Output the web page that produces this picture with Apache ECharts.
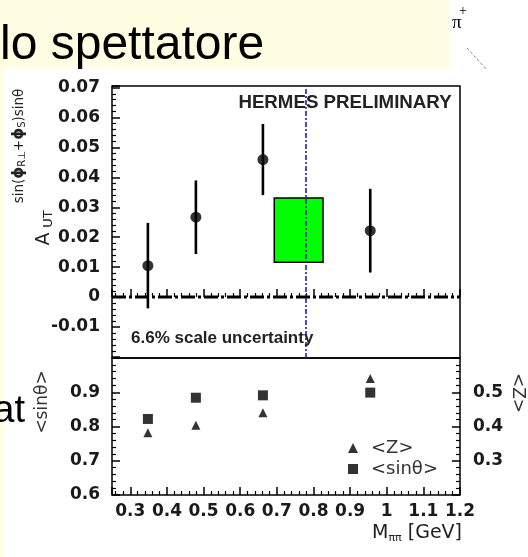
<!DOCTYPE html>
<html>
<head>
<meta charset="utf-8">
<script src="https://cdn.jsdelivr.net/npm/echarts@6/dist/echarts.min.js"></script>
<style>
html,body{margin:0;padding:0;background:#fff;}
#chart{width:528px;height:557px;}
</style>
</head>
<body>
<div id="chart"></div>
<script>
// ---- data ----
const massBins = [0.348, 0.479, 0.662, 0.955];          // M_pipi bin centres [GeV]
const asymValues = [0.0105, 0.0267, 0.0460, 0.0222];    // A_UT amplitude
const asymErrors = [0.0143, 0.0123, 0.0119, 0.0140];    // statistical errors
const sinThetaMeans = [0.822, 0.884, 0.891, 0.899];     // <sin theta> (left axis)
const zMeans = [0.382, 0.404, 0.440, 0.540];            // <z> (right axis)
const rhoMass = 0.777;                                  // dashed vertical line
const rhoBoxMass = [0.693, 0.826];                      // green box x-extent
const rhoBoxAsym = [0.0116, 0.0331];                    // green box y-extent
const xRange = [0.25, 1.2];
const asymRange = [-0.0204, 0.0706];
const sinRange = [0.6, 1.0];
const zRange = [0.2, 0.6];

const FONT = 'DejaVu Sans';
const tickStyle = {show:true, inside:true, length:8, lineStyle:{color:'#000', width:1.5}};
const minorStyle = {show:true, splitNumber:5, length:4, lineStyle:{color:'#000', width:1.2}};
const lblStyle = {fontFamily:FONT, fontSize:17, fontWeight:'bold', color:'#1a1a1a'};

function fmtStep(step, hideFn){
  return function(v){
    const r = Math.round(v/step);
    if (Math.abs(v/step - r) > 1e-6) return '';
    const val = +(r*step).toFixed(4);
    if (hideFn && hideFn(val)) return '';
    return String(val);
  };
}

const chart = echarts.init(document.getElementById('chart'), null, {renderer:'canvas'});
const option = {
  animation:false,
  backgroundColor:'#ffffff',
  grid:[
    {left:112, top:86, width:348, height:272, show:true, borderColor:'#000', borderWidth:1.5, backgroundColor:'transparent'},
    {left:112, top:358, width:348, height:137, show:true, borderColor:'#000', borderWidth:1.5, backgroundColor:'transparent'}
  ],
  xAxis:[
    {gridIndex:0, type:'value', min:xRange[0], max:xRange[1], splitNumber:10,
     axisLine:{show:false}, axisTick:tickStyle, minorTick:minorStyle,
     axisLabel:{show:false}, splitLine:{show:false}, minorSplitLine:{show:false}},
    {gridIndex:1, type:'value', min:xRange[0], max:xRange[1], splitNumber:10,
     axisLine:{show:false}, axisTick:tickStyle, minorTick:minorStyle,
     axisLabel:Object.assign({margin:8, formatter:fmtStep(0.1), showMinLabel:true, showMaxLabel:true}, lblStyle),
     splitLine:{show:false}, minorSplitLine:{show:false}}
  ],
  yAxis:[
    {gridIndex:0, type:'value', min:asymRange[0], max:asymRange[1], splitNumber:9,
     axisLine:{show:false}, axisTick:tickStyle, minorTick:minorStyle,
     axisLabel:Object.assign({margin:12, formatter:fmtStep(0.01, v => v < -0.015)}, lblStyle),
     splitLine:{show:false}, minorSplitLine:{show:false}},
    {gridIndex:1, type:'value', min:sinRange[0], max:sinRange[1], splitNumber:4,
     axisLine:{show:false}, axisTick:tickStyle, minorTick:minorStyle,
     axisLabel:Object.assign({margin:12, formatter:fmtStep(0.1, v => v > 0.95)}, lblStyle),
     splitLine:{show:false}, minorSplitLine:{show:false}},
    {gridIndex:1, type:'value', position:'right', min:zRange[0], max:zRange[1], splitNumber:4,
     axisLine:{show:false}, axisTick:tickStyle, minorTick:minorStyle,
     axisLabel:Object.assign({margin:13, formatter:fmtStep(0.1, v => v < 0.25 || v > 0.55)}, lblStyle),
     splitLine:{show:false}, minorSplitLine:{show:false}}
  ],
  legend:{
    orient:'vertical', left:343, top:434, itemWidth:10, itemHeight:10, itemGap:3,
    data:['<Z>', '<sinθ>'],
    textStyle:{fontFamily:FONT, fontSize:18, color:'#333', padding:[0,0,0,8]},
    selectedMode:false
  },
  series:[
    { // rho-mass line
      type:'line', xAxisIndex:0, yAxisIndex:0, data:[], z:1, silent:true,
      markLine:{silent:true, symbol:'none', label:{show:false},
        data:[
          {xAxis:rhoMass, lineStyle:{color:'#23239a', width:1.6, type:[5,2,2,2]}}
        ]}
    },
    { // zero line (dash-dot)
      type:'custom', xAxisIndex:0, yAxisIndex:0, z:2, silent:true,
      data:[[xRange[0], xRange[1], 0]],
      encode:{x:[0,1], y:2},
      renderItem:function(params, api){
        const a = api.coord([api.value(0), api.value(2)]);
        const b = api.coord([api.value(1), api.value(2)]);
        return {type:'line', shape:{x1:a[0], y1:a[1], x2:b[0], y2:b[1]},
                style:{stroke:'#000', lineWidth:2.8, lineDash:[14,3,3,3]}};
      }
    },
    { // green box
      type:'line', xAxisIndex:0, yAxisIndex:0, data:[], z:3, silent:true,
      markArea:{silent:true, itemStyle:{color:'#00ff00', opacity:1, borderColor:'#000', borderWidth:1.5},
        label:{show:false},
        data:[[{coord:[rhoBoxMass[0], rhoBoxAsym[1]]}, {coord:[rhoBoxMass[1], rhoBoxAsym[0]]}]]}
    },
    { // error bars
      type:'custom', xAxisIndex:0, yAxisIndex:0, z:4, silent:true,
      data: massBins.map((x,i)=>[x, asymValues[i]-asymErrors[i], asymValues[i]+asymErrors[i]]),
      encode:{x:0, y:[1,2]},
      renderItem:function(params, api){
        const lo = api.coord([api.value(0), api.value(1)]);
        const hi = api.coord([api.value(0), api.value(2)]);
        return {type:'line', shape:{x1:lo[0], y1:lo[1], x2:hi[0], y2:hi[1]}, style:{stroke:'#000', lineWidth:2.6}};
      }
    },
    {
      type:'scatter', name:'asym', xAxisIndex:0, yAxisIndex:0, z:5, silent:true,
      symbol:'circle', symbolSize:11, itemStyle:{color:'#000'},
      data: massBins.map((x,i)=>[x, asymValues[i]])
    },
    {
      type:'scatter', name:'<Z>', xAxisIndex:1, yAxisIndex:2, z:5, silent:true,
      symbol:'triangle', symbolSize:9, itemStyle:{color:'#000'},
      data: massBins.map((x,i)=>[x, zMeans[i]])
    },
    {
      type:'scatter', name:'<sinθ>', xAxisIndex:1, yAxisIndex:1, z:5, silent:true,
      symbol:'rect', symbolSize:10, itemStyle:{color:'#000'},
      data: massBins.map((x,i)=>[x, sinThetaMeans[i]])
    }
  ],
  graphic:[
    {type:'rect', z:-10, shape:{x:0, y:0, width:450, height:68}, style:{fill:'#fffee3'}},
    {type:'rect', z:-10, shape:{x:0, y:68, width:3, height:489}, style:{fill:'#fffee3'}},
    {type:'text', x:0, y:46, style:{text:'lo spettatore', fontFamily:'Liberation Sans', fontSize:48, fill:'#000', verticalAlign:'middle'}},
    {type:'text', x:25, y:412, style:{text:'at', fontFamily:'Liberation Sans', fontSize:38, fill:'#000', align:'right', verticalAlign:'middle'}},
    {type:'text', x:452, y:23, style:{text:'π', fontFamily:'Liberation Serif', fontSize:19, fill:'#000', verticalAlign:'middle'}},
    {type:'text', x:459, y:11, style:{text:'+', fontFamily:'Liberation Serif', fontSize:14, fill:'#000', verticalAlign:'middle'}},
    {type:'line', shape:{x1:467, y1:48, x2:487, y2:70}, style:{stroke:'#888', lineWidth:1, lineDash:[3,2]}},
    {type:'text', x:345, y:103, z:10, style:{text:'HERMES PRELIMINARY', fontFamily:'Liberation Sans', fontWeight:'bold', fontSize:18.7, fill:'#222', align:'center', verticalAlign:'middle'}},
    {type:'text', x:131, y:338, z:10, style:{text:'6.6% scale uncertainty', fontFamily:'Liberation Sans', fontWeight:'bold', fontSize:17, fill:'#222', verticalAlign:'middle'}},
    {type:'text', x:44, y:239, rotation:Math.PI/2, style:{text:'A', fontFamily:FONT, fontSize:19, fill:'#222', align:'center', verticalAlign:'middle'}},
    {type:'text', x:49, y:219, rotation:Math.PI/2, style:{text:'UT', fontFamily:FONT, fontSize:13, fill:'#222', align:'center', verticalAlign:'middle'}},
    {type:'text', x:19, y:146, rotation:Math.PI/2, style:{
      text:'sin({p|ϕ}{s|R⊥}+{p|ϕ}{s|S})sinθ', fontFamily:FONT, fontSize:13.5, fill:'#222', align:'center', verticalAlign:'middle',
      rich:{p:{fontFamily:FONT, fontSize:15, fontWeight:'bold', fill:'#222'}, s:{fontFamily:FONT, fontSize:10, fill:'#222', padding:[7,0,0,0]}}}},
    {type:'text', x:43, y:402, rotation:Math.PI/2, style:{text:'<sinθ>', fontFamily:FONT, fontSize:17, fill:'#333', align:'center', verticalAlign:'middle'}},
    {type:'text', x:517, y:393, rotation:-Math.PI/2, style:{text:'<Z>', fontFamily:FONT, fontSize:17, fill:'#333', align:'center', verticalAlign:'middle'}},
    {type:'text', x:462, y:533, style:{text:'M{s|ππ} [GeV]', fontFamily:FONT, fontSize:19, fill:'#222', align:'right', verticalAlign:'middle',
      rich:{s:{fontFamily:FONT, fontSize:11, fill:'#222', padding:[10,0,0,0]}}}}
  ]
};
chart.setOption(option);
</script>
</body>
</html>
